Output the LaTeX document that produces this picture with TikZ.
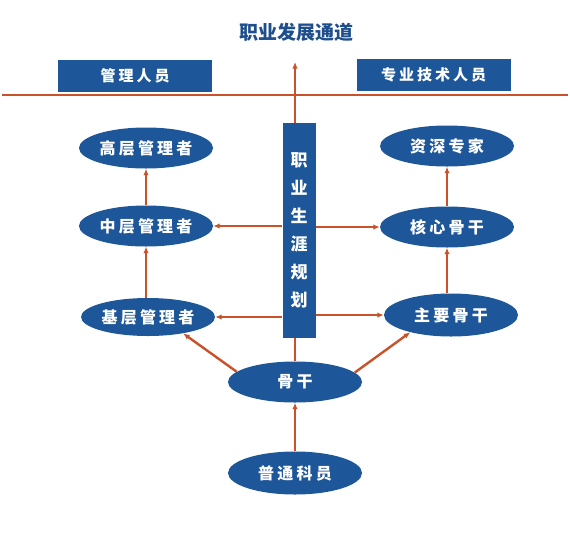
\documentclass[tikz,border=0pt]{standalone}
\usepackage{fontspec}
\setmainfont{Noto Sans CJK SC}
\newfontfamily\spacedcjk[LetterSpace=20]{Noto Sans CJK SC}
\usetikzlibrary{arrows.meta,shapes.geometric}
\definecolor{pathblue}{RGB}{30,87,153}
\definecolor{titleblue}{RGB}{31,78,140}
\definecolor{linkorange}{RGB}{201,82,42}

\begin{document}
\begin{tikzpicture}[x=1pt, y=-1pt, >={Latex[length=6.5pt,width=5.5pt]},
      role/.style={ellipse, fill=pathblue, text=white, inner sep=0pt, minimum width=134pt, minimum height=41pt, font=\spacedcjk\bfseries\fontsize{16}{19}\selectfont},
      head/.style={rectangle, fill=pathblue, text=white, inner sep=0pt, minimum width=154pt, minimum height=32pt, font=\spacedcjk\bfseries\fontsize{15}{18}\selectfont},
      plan/.style={rectangle, fill=pathblue, text=white, inner sep=0pt, minimum width=33pt, minimum height=215pt, align=center, font=\bfseries\fontsize{17}{28}\selectfont},
      link/.style={draw=linkorange, line width=2.4pt}]
      \useasboundingbox (0,0) rectangle (570,536);
      \node[font=\bfseries\fontsize{19}{23}\selectfont, text=titleblue] (title) at (296,32) {职业发展通道};
      \node[head] (mgr)  at (135,76)    {管理人员};
      \node[head] (tech) at (433.5,74.5) {专业技术人员};
      \node[plan] (career) at (299,230.5) {职\\业\\生\\涯\\规\\划};
      \node[role] (top)    at (146,148) {高层管理者};
      \node[role] (mid)    at (146,226) {中层管理者};
      \node[role, minimum height=38pt] (low) at (148,317) {基层管理者};
      \node[role] (expert) at (447,146) {资深专家};
      \node[role] (core)   at (447,227) {核心骨干};
      \node[role, minimum height=43pt] (prime) at (451,315) {主要骨干};
      \node[role] (backbone) at (295,382) {骨干};
      \node[role, minimum height=43pt] (clerk) at (295,473) {普通科员};
      \coordinate (lineL) at (2,95);
      \coordinate (lineR) at (568,95);
      \coordinate (goal)  at (295,62);
      % channel line and main axis
      \draw[link] (lineL) -- (lineR);
      \draw[link,->] (career.north -| backbone) -- (goal);
      \draw[link] (career.south -| backbone) -- (backbone.north);
      \draw[link,->] (clerk) -- (backbone);
      % promotion steps
      \draw[link,->] (mid) -- (top);   \draw[link,->] (low.north -| mid) -- (mid);
      \draw[link,->] (core) -- (expert); \draw[link,->] (prime.north -| core) -- (core);
      \draw[link,->] (career.west |- mid) -- (mid);  \draw[link,->] (career.east |- core) -- (core);
      \draw[link,->] (career.west |- low) -- (low);  \draw[link,->] (career.east |- prime) -- (prime);
      \draw[link,->] (backbone.170) -- (low.-25);
      \draw[link,->] (backbone.9) -- (prime.-157);
    \end{tikzpicture}
\end{document}
